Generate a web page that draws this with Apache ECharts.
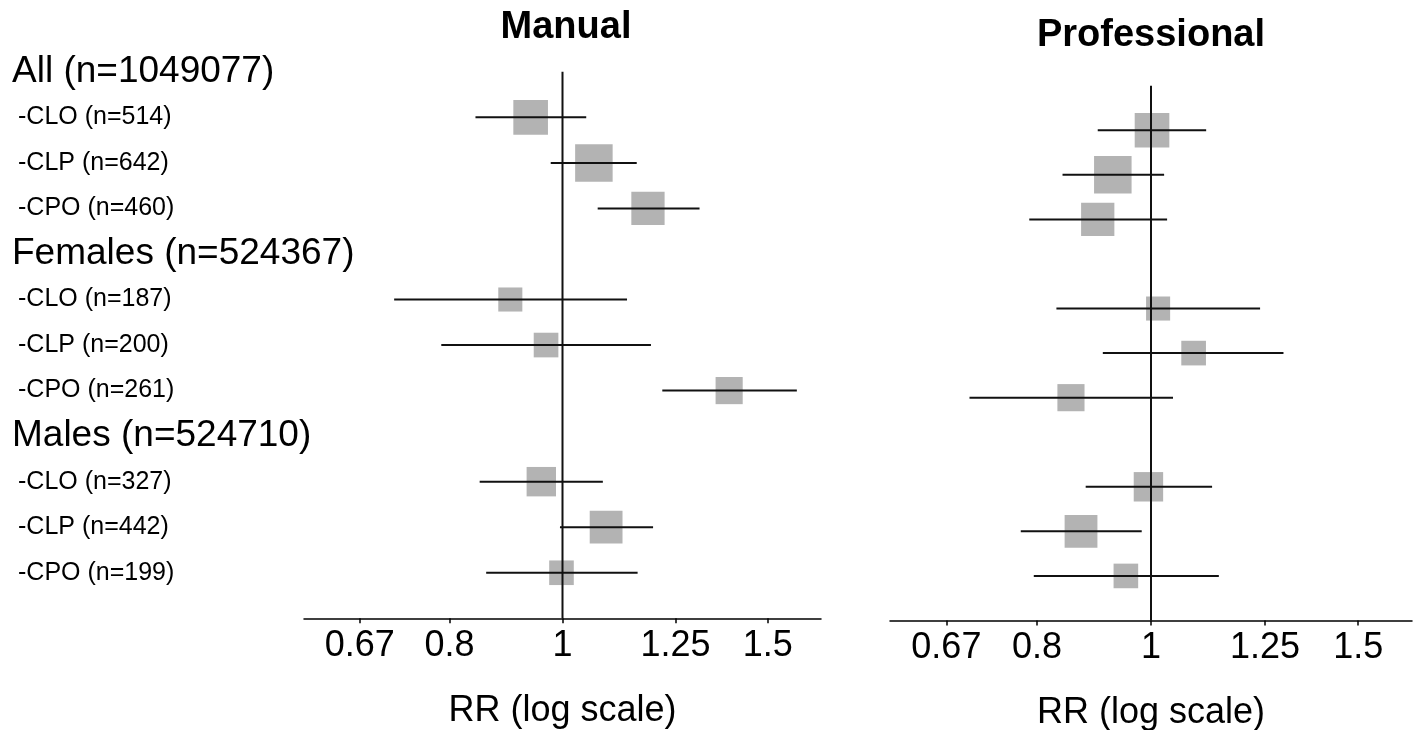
<!DOCTYPE html>
<html>
<head>
<meta charset="utf-8">
<script src="https://cdn.jsdelivr.net/npm/echarts@6/dist/echarts.min.js"></script>
<style>
  html, body { margin: 0; padding: 0; background: #fff; }
  #chart { width: 1421px; height: 730px; }
</style>
</head>
<body>
<div id="chart"></div>
<script>
  // rows: group header, then CLO / CLP / CPO
  const groups = ['All (n=1049077)', 'Females (n=524367)', 'Males (n=524710)']
  const subgroups = ['CLO', 'CLP', 'CPO']
  const counts = [514, 642, 460, 187, 200, 261, 327, 442, 199]

  const manualRR = [0.939, 1.064, 1.184, 0.902, 0.968, 1.390, 0.959, 1.090, 0.998]
  const manualLo = [0.842, 0.977, 1.072, 0.717, 0.787, 1.218, 0.849, 0.995, 0.860]
  const manualHi = [1.048, 1.158, 1.311, 1.136, 1.191, 1.589, 1.083, 1.196, 1.160]

  const profRR = [1.002, 0.928, 0.901, 1.014, 1.087, 0.855, 0.995, 0.872, 0.952]
  const profLo = [0.901, 0.841, 0.788, 0.831, 0.910, 0.701, 0.880, 0.775, 0.795]
  const profHi = [1.114, 1.026, 1.032, 1.238, 1.296, 1.044, 1.127, 0.982, 1.142]

  const tickValues = [0.67, 0.8, 1, 1.25, 1.5]
  const panelTitles = ['Manual', 'Professional']

  const FONT = '"Liberation Sans", Arial, sans-serif'

  // row labels (12 rows: header + 3 subgroups per group)
  let rowLabels = []
  groups.forEach((g, gi) => {
    rowLabels.push(`{h|${g}}`)
    subgroups.forEach((s, si) => {
      rowLabels.push(`{s|-${s} (n=${counts[gi * 3 + si]})}`)
    })
  })
  const rowOf = i => Math.floor(i / 3) * 4 + (i % 3) + 1

  let chart = echarts.init(document.getElementById('chart'))

  let xAxisDef = (idx) => ({
    type: 'log',
    gridIndex: idx,
    position: 'bottom',
    min: 0.6,
    max: 1 / 0.6,
    name: 'RR (log scale)',
    nameLocation: 'middle',
    nameGap: 75,
    nameTextStyle: { fontSize: 36, color: '#000', fontFamily: FONT },
    axisLine: { show: true, onZero: false, lineStyle: { color: '#000', width: 1.5 } },
    axisTick: { show: true, customValues: tickValues, length: 5, lineStyle: { color: '#000', width: 1.5 } },
    axisLabel: {
      customValues: tickValues,
      fontSize: 36, color: '#000', fontFamily: FONT, margin: 10,
      formatter: v => String(+Number(v).toFixed(2))
    },
    splitLine: { show: false }
  })

  let yAxisDef = (idx, labels) => ({
    type: 'value',
    gridIndex: idx,
    inverse: true,
    min: 0,
    max: 12,
    interval: 1,
    axisLine: { show: false, onZero: false },
    axisTick: { show: false },
    splitLine: { show: false },
    axisLabel: labels ? {
      align: 'left',
      margin: 292,
      color: '#000',
      fontFamily: FONT,
      formatter: v => rowLabels[v] || '',
      rich: {
        h: { fontSize: 37, color: '#000', fontFamily: FONT },
        s: { fontSize: 25, color: '#000', fontFamily: FONT, padding: [0, 0, 0, 6] }
      }
    } : { show: false }
  })

  let squares = (idx, rr) => ({
    type: 'scatter',
    xAxisIndex: idx,
    yAxisIndex: idx,
    symbol: 'rect',
    symbolSize: (val, p) => 3.66 * Math.pow(counts[p.dataIndex], 0.36),
    itemStyle: { color: '#b3b3b3', opacity: 1 },
    z: 2,
    silent: true,
    data: rr.map((v, i) => [v, rowOf(i)])
  })

  let ciLines = (idx, lo, hi) => ({
    type: 'custom',
    xAxisIndex: idx,
    yAxisIndex: idx,
    z: 3,
    silent: true,
    renderItem: (params, api) => {
      let a = api.coord([api.value(0), api.value(2)])
      let b = api.coord([api.value(1), api.value(2)])
      return {
        type: 'line',
        shape: { x1: a[0], y1: a[1], x2: b[0], y2: b[1] },
        style: { stroke: '#111', lineWidth: 2 }
      }
    },
    data: lo.map((v, i) => [v, hi[i], rowOf(i)])
  })

  let refLine = (idx) => ({
    type: 'line',
    xAxisIndex: idx,
    yAxisIndex: idx,
    symbol: 'none',
    z: 4,
    silent: true,
    lineStyle: { color: '#111', width: 2 },
    data: [[1, 0], [1, 12]]
  })

  let option = {
    backgroundColor: '#fff',
    animation: false,
    title: [
      { text: panelTitles[0], left: 561, top: 4, textAlign: 'center',
        textStyle: { fontSize: 38, fontWeight: 'bold', color: '#000', fontFamily: FONT } },
      { text: panelTitles[1], left: 1146, top: 12, textAlign: 'center',
        textStyle: { fontSize: 38, fontWeight: 'bold', color: '#000', fontFamily: FONT } }
    ],
    grid: [
      { left: 304, top: 71.8, width: 517, height: 546.5, outerBoundsMode: 'none', containLabel: false },
      { left: 890, top: 85.7, width: 522, height: 534.8, outerBoundsMode: 'none', containLabel: false }
    ],
    xAxis: [xAxisDef(0), xAxisDef(1)],
    yAxis: [yAxisDef(0, true), yAxisDef(1, false)],
    series: [
      squares(0, manualRR), ciLines(0, manualLo, manualHi), refLine(0),
      squares(1, profRR), ciLines(1, profLo, profHi), refLine(1)
    ]
  }

  chart.setOption(option)
  window.addEventListener('resize', function () {
    chart.resize()
  })
</script>
</body>
</html>
